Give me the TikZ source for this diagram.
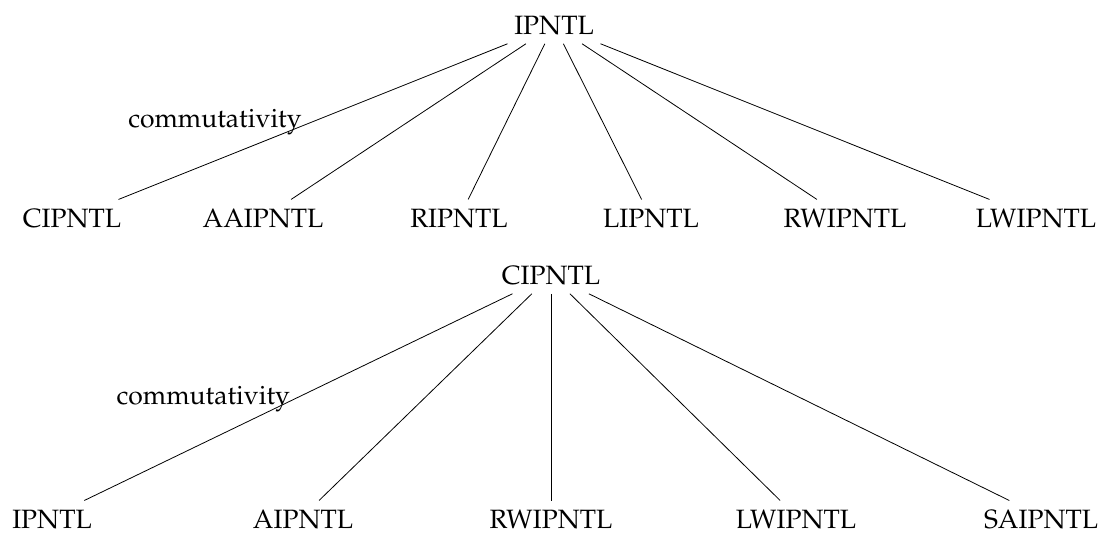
\documentclass[tikz,border=0pt]{standalone}
\usepackage[T1]{fontenc}
\usepackage{mathpazo}
\begin{document}
\begin{tikzpicture}[x=1pt,y=-1pt,
  lbl/.style={font=\fontsize{26.5}{32}\selectfont, inner sep=9pt, anchor=base},
  lowlbl/.style={lbl, inner ysep=3pt, text height=24.3pt},
  edgelbl/.style={font=\fontsize{26.5}{32}\selectfont, inner sep=2pt, anchor=base east},
  conn/.style={draw=black, line width=0.8pt}]
\useasboundingbox (0,0) rectangle (1110,536);
% top tree
\node[lbl] (r1) at (554,34) {IPNTL};
\node[lbl] (a1) at (72,227) {CIPNTL};
\node[lbl] (a2) at (263,227) {AAIPNTL};
\node[lbl] (a3) at (459,227) {RIPNTL};
\node[lbl] (a4) at (651,227) {LIPNTL};
\node[lbl] (a5) at (845,227) {RWIPNTL};
\node[lbl] (a6) at (1036,227) {LWIPNTL};
\draw[conn] (r1) -- node[edgelbl, xshift=-9pt, yshift=-6pt] {commutativity} (a1);
\draw[conn] (r1) -- (a2);
\draw[conn] (r1) -- (a3);
\draw[conn] (r1) -- (a4);
\draw[conn] (r1) -- (a5);
\draw[conn] (r1) -- (a6);
% bottom tree
\node[lbl] (r2) at (551,284) {CIPNTL};
\node[lowlbl] (b1) at (52,528) {IPNTL};
\node[lowlbl] (b2) at (303,528) {AIPNTL};
\node[lowlbl] (b3) at (551,528) {RWIPNTL};
\node[lowlbl] (b4) at (796,528) {LWIPNTL};
\node[lowlbl] (b5) at (1041,528) {SAIPNTL};
\draw[conn] (r2) -- node[edgelbl, xshift=-6pt, yshift=-7pt] {commutativity} (b1);
\draw[conn] (r2) -- (b2);
\draw[conn] (r2) -- (b3);
\draw[conn] (r2) -- (b4);
\draw[conn] (r2) -- (b5);
\end{tikzpicture}
\end{document}
